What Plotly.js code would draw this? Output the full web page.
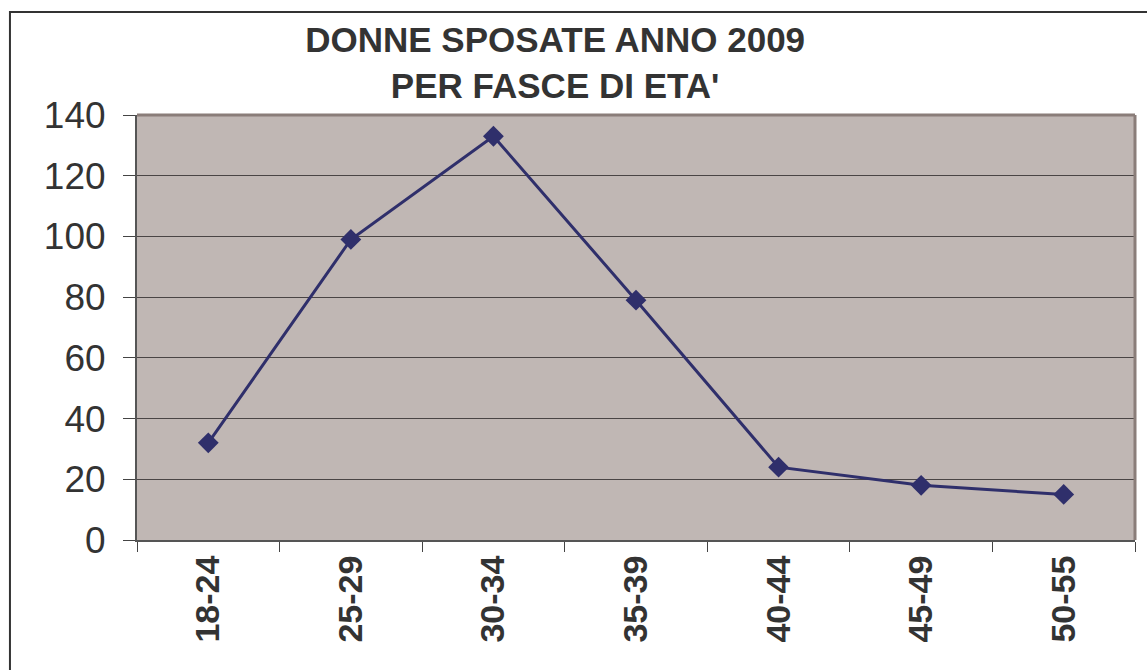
<!DOCTYPE html>
<html>
<head>
<meta charset="utf-8">
<script src="https://cdn.plot.ly/plotly-3.0.1.min.js"></script>
<style>html,body{margin:0;padding:0;background:#fff;}#chart{width:1147px;height:670px;}</style>
</head>
<body>
<div id="chart"></div>
<script>
const categories = ["18-24", "25-29", "30-34", "35-39", "40-44", "45-49", "50-55"];
const values = [32, 99, 133, 79, 24, 18, 15];
const yTicks = [0, 20, 40, 60, 80, 100, 120, 140];

const trace = {
  x: categories,
  y: values,
  type: "scatter",
  mode: "lines+markers",
  line: {color: "#2f2f6b", width: 3},
  marker: {symbol: "diamond", size: 16, color: "#2f2f6b"},
  hoverinfo: "x+y"
};

const layout = {
  width: 1147,
  height: 670,
  margin: {l: 137, r: 12, t: 115, b: 130},
  paper_bgcolor: "#ffffff",
  plot_bgcolor: "#c0b7b4",
  showlegend: false,
  font: {family: "Liberation Sans, Arial, sans-serif", color: "#333333"},
  title: {
    text: "<b>DONNE SPOSATE ANNO 2009<br>PER FASCE DI ETA'</b>",
    font: {size: 35, color: "#333333", family: "Liberation Sans, Arial, sans-serif"},
    xref: "container", x: 0.484, xanchor: "center",
    yref: "container", y: 1 - 52/670, yanchor: "top"
  },
  xaxis: {
    type: "category",
    tickson: "boundaries",
    ticks: "outside",
    ticklen: 10,
    tickcolor: "#444444",
    tickangle: -90,
    tickfont: {size: 34, family: "Liberation Sans, Arial, sans-serif", color: "#333333", weight: "bold"},
    showgrid: false,
    showline: true,
    linecolor: "#555555",
    linewidth: 2,
    zeroline: false,
    range: [-0.5, 6.5],
    ticklabelstandoff: 0
  },
  yaxis: {
    range: [0, 140],
    tickvals: yTicks,
    ticktext: yTicks.map(String),
    ticks: "outside",
    ticklen: 12,
    tickcolor: "#444444",
    tickfont: {size: 37, family: "Liberation Sans, Arial, sans-serif", color: "#333333"},
    showgrid: true,
    gridcolor: "#4a4545",
    gridwidth: 1,
    showline: true,
    linecolor: "#555555",
    linewidth: 2,
    zeroline: false,
    ticklabelstandoff: 10
  },
  shapes: [
    {type: "rect", xref: "paper", yref: "paper", x0: -0.1273, x1: 1.05, y0: -0.4, y1: 1.2424,
     line: {color: "#333333", width: 2}, fillcolor: "rgba(0,0,0,0)", layer: "below"},
    {type: "line", xref: "paper", yref: "paper", x0: 0, x1: 1, y0: 1, y1: 1,
     line: {color: "#8a7d79", width: 3}},
    {type: "line", xref: "paper", yref: "paper", x0: 1, x1: 1, y0: 0, y1: 1,
     line: {color: "#8a7d79", width: 3}}
  ]
};

Plotly.newPlot("chart", [trace], layout, {displayModeBar: false, staticPlot: true});
</script>
</body>
</html>
